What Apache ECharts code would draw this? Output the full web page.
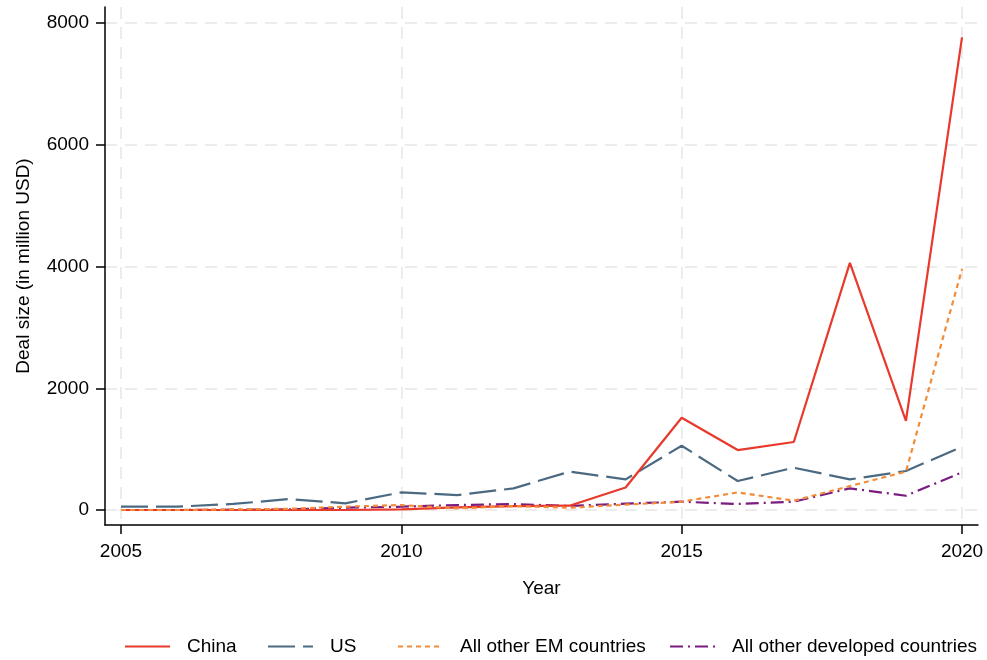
<!DOCTYPE html>
<html>
<head>
<meta charset="utf-8">
<script src="https://cdn.jsdelivr.net/npm/echarts@6/dist/echarts.min.js"></script>
<style>html,body{margin:0;padding:0;background:#fff}#c{width:987px;height:660px}</style>
</head>
<body>
<div id="c"></div>
<script>
const years = [2005,2006,2007,2008,2009,2010,2011,2012,2013,2014,2015,2016,2017,2018,2019,2020];
const china = [0,0,0,0,0,10,44,65,71,370,1515,985,1117,4060,1465,7765];
const us = [55,55,100,180,110,290,246,356,630,504,1056,476,695,504,641,1040];
const otherEM = [0,0,10,20,55,82,27,65,38,88,137,290,153,394,630,3960];
const otherDev = [0,0,5,10,38,55,82,99,66,104,137,99,137,356,235,619];
const xTicks = [2005,2010,2015,2020];
const yTicks = [0,2000,4000,6000,8000];
const seriesNames = ['China','US','All other EM countries','All other developed countries'];

const FONT = "'Liberation Sans', Arial, Helvetica, sans-serif";
const FS = 19;
const grid = {color:'#e6e6e6', width:1.5, type:[12,8]};
const legendLefts = [119, 262, 392, 664];

function pairs(vals){ return years.map((y,i)=>[y, vals[i]]); }

const legends = seriesNames.map((n,i)=>({
  bottom:-1, left:legendLefts[i], itemWidth:45, itemHeight:12,
  itemStyle:{opacity:0},
  textStyle:{fontSize:FS, color:'#000', fontFamily:FONT, padding:[0,0,0,12]},
  data:[n]
}));

const chart = echarts.init(document.getElementById('c'), null, {renderer:'canvas'});
chart.setOption({
  animation:false,
  backgroundColor:'#fff',
  textStyle:{fontFamily:FONT},
  grid:{left:105, right:9, top:7, bottom:135, containLabel:false},
  xAxis:{
    type:'value', min:2004.715, max:2020.285,
    name:'Year', nameLocation:'middle', nameGap:54,
    nameTextStyle:{fontSize:FS, color:'#000', fontFamily:FONT},
    axisLine:{show:true, onZero:false, lineStyle:{color:'#000', width:1.5}},
    axisTick:{show:true, length:9, lineStyle:{color:'#000', width:1.5}, customValues:xTicks},
    axisLabel:{fontSize:FS, color:'#000', margin:17, customValues:xTicks, formatter:v=>String(v), fontFamily:FONT},
    splitLine:{show:true, lineStyle:grid}
  },
  yAxis:{
    type:'value', min:-246, max:8263,
    name:'Deal size (in million USD)', nameLocation:'middle', nameGap:72,
    nameTextStyle:{fontSize:FS, color:'#000', fontFamily:FONT},
    axisLine:{show:true, onZero:false, lineStyle:{color:'#000', width:1.5}},
    axisTick:{show:true, length:9, lineStyle:{color:'#000', width:1.5}, customValues:yTicks},
    axisLabel:{fontSize:FS, color:'#000', margin:16, customValues:yTicks, formatter:v=>String(v), fontFamily:FONT},
    splitLine:{show:true, lineStyle:grid}
  },
  legend:legends,
  series:[
    {name:seriesNames[0], type:'line', data:pairs(china), symbol:'none', lineStyle:{color:'#e8392c', width:2.2, type:'solid'}, itemStyle:{color:'#e8392c'}, z:4},
    {name:seriesNames[1], type:'line', data:pairs(us), symbol:'none', lineStyle:{color:'#4b6a82', width:2.2, type:[27,8]}, itemStyle:{color:'#4b6a82'}, z:3},
    {name:seriesNames[2], type:'line', data:pairs(otherEM), symbol:'none', lineStyle:{color:'#f28c38', width:2.2, type:[5,4]}, itemStyle:{color:'#f28c38'}, z:5},
    {name:seriesNames[3], type:'line', data:pairs(otherDev), symbol:'none', lineStyle:{color:'#7a1b7f', width:2.2, type:[13,5,2,5]}, itemStyle:{color:'#7a1b7f'}, z:2}
  ]
});
</script>
</body>
</html>
